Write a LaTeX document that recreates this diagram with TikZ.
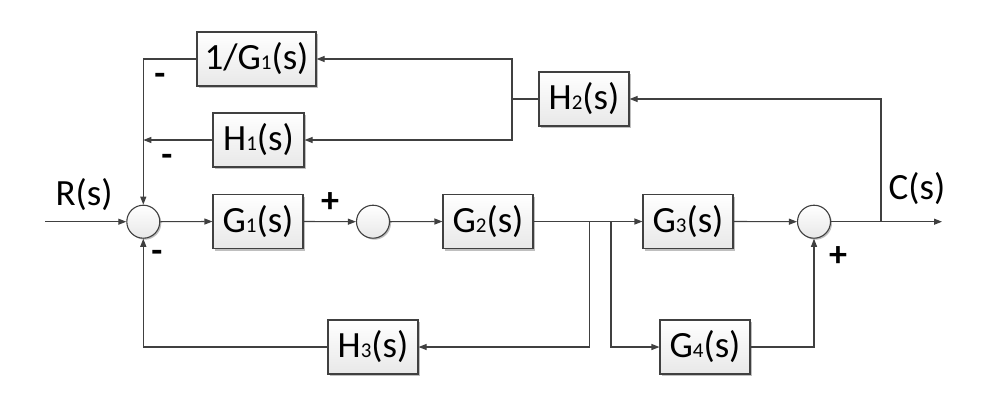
\documentclass[tikz,border=0pt]{standalone}
\usepackage{fontspec}
\setmainfont{Carlito}
\usetikzlibrary{arrows.meta,shadows}
\newcommand{\sbs}[1]{{\fontsize{21}{21}\selectfont #1}}
\begin{document}
\begin{tikzpicture}[x=1pt,y=-1pt,
  line/.style={draw=black!75,line width=1.1pt},
  arr/.style={line,-{Triangle[length=8pt,width=6pt]}},
  blk/.style={draw=black!75,line width=1.1pt,minimum height=54pt,minimum width=90pt,inner sep=0pt,
    top color=white,bottom color=black!9,
    drop shadow={shadow xshift=2pt,shadow yshift=-2pt,fill=black!25,opacity=1},
    font=\fontsize{37}{42}\selectfont},
  sum/.style={circle,draw=black!75,line width=1.1pt,minimum size=33pt,inner sep=0pt,
    top color=white,bottom color=black!9,
    drop shadow={shadow xshift=1.5pt,shadow yshift=-1.5pt,fill=black!25,opacity=1}},
  lbl/.style={font=\fontsize{37}{42}\selectfont,inner sep=0pt},
  sgn/.style={font=\fontsize{36}{36}\selectfont\bfseries,inner sep=0pt}]
\useasboundingbox (0,0) rectangle (1001,400);
% blocks
\node[blk,minimum width=119pt] (b1g1) at (256.5,59) {1/G\sbs{1}(s)};
\node[blk,minimum width=91pt] (h1) at (258.5,140) {H\sbs{1}(s)};
\node[blk] (h2) at (584,99) {H\sbs{2}(s)};
\node[blk] (g1) at (258,221.5) {G\sbs{1}(s)};
\node[blk] (g2) at (488,221.5) {G\sbs{2}(s)};
\node[blk] (g3) at (688,221.5) {G\sbs{3}(s)};
\node[blk] (g4) at (705,347) {G\sbs{4}(s)};
\node[blk] (h3) at (373,347) {H\sbs{3}(s)};
\node[sum] (s1) at (143.3,221.7) {};
\node[sum] (s2) at (373,221.7) {};
\node[sum] (s3) at (814,221.7) {};
% coordinates
\coordinate (in) at (45,221.7);
\coordinate (out) at (942,221.7);
\coordinate (br1) at (589.3,221.7);
\coordinate (br2) at (611,221.7);
\coordinate (cb) at (881,221.7);
\coordinate (j) at (512,99);
\coordinate (k) at (143.3,140);
% labels
\node[lbl] (rs) at (84,195) {R(s)};
\node[lbl] (cs) at (917,189) {C(s)};
\node[sgn] (m1) at (160,79) {-};
\node[sgn] (m2) at (167,160) {-};
\node[sgn] (p1) at (330,203) {+};
\node[sgn] (m3) at (157,256) {-};
\node[sgn] (p2) at (838,257) {+};
% connectors
\draw[arr] (in) -- (s1.west);
\draw[arr] (s1.east) -- (g1.west);
\draw[arr] (g1.east) -- (s2.west);
\draw[arr] (s2.east) -- (g2.west);
\draw[arr] (g2.east) -- (g3.west);
\draw[arr] (g3.east) -- (s3.west);
\draw[arr] (s3.east) -- (out);
\draw[arr] (br1) |- (h3.east);
\draw[arr] (h3.west) -| (s1.south);
\draw[arr] (br2) |- (g4.west);
\draw[arr] (g4.east) -| (s3.south);
\draw[arr] (cb) |- (h2.east);
\draw[line] (h2.west) -- (j);
\draw[arr] (j) |- (b1g1.east);
\draw[arr] (j) |- (h1.east);
\draw[arr] (b1g1.west) -| (s1.north);
\draw[arr] (h1.west) -- (k);
\end{tikzpicture}
\end{document}
